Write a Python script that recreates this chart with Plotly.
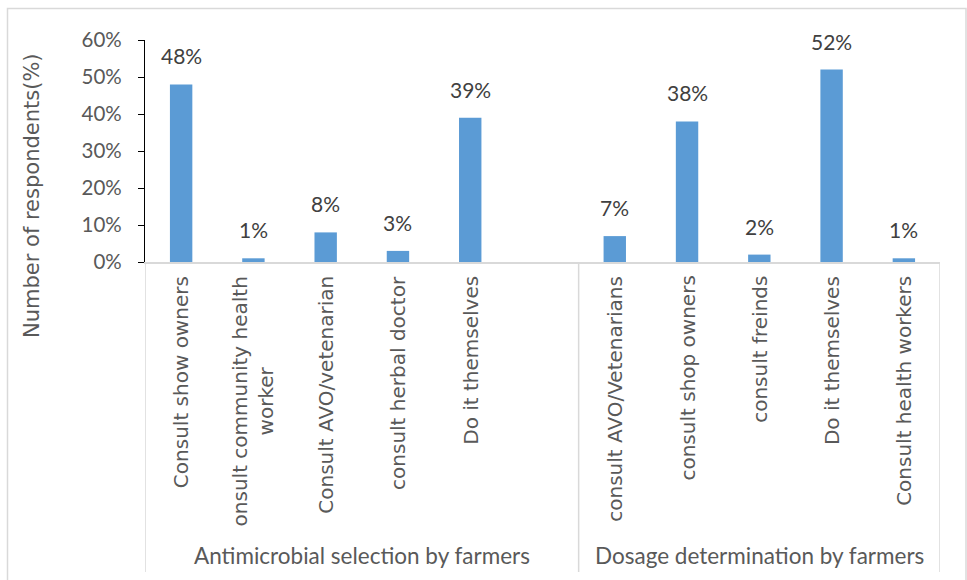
import plotly.graph_objects as go

# ---- data ----
categories = [
    "Consult show owners",
    "onsult community health<br>worker",
    "Consult AVO/vetenarian",
    "consult herbal doctor",
    "Do it themselves",
    "",
    "consult AVO/Vetenarians",
    "consult shop owners",
    "consult freinds",
    "Do it themselves",
    "Consult health workers",
]
values = [0.48, 0.01, 0.08, 0.03, 0.39, None, 0.07, 0.38, 0.02, 0.52, 0.01]
groups = ["Antimicrobial selection by farmers", "Dosage determination by farmers"]
group_sizes = [6, 5]
y_ticks = [0, 0.1, 0.2, 0.3, 0.4, 0.5, 0.6]
y_title = "Number of respondents(%)"

W, H = 967, 580
L, R, T, B = 145, 27, 40, 318
PW, PH = W - L - R, H - T - B

def px_to_paper_x(px):
    return (px - L) / PW

def px_to_paper_y(py):
    return (H - B - py) / PH

xs = list(range(len(categories)))
bar_color = "#5B9BD5"

fig = go.Figure()
fig.add_trace(go.Bar(
    x=xs, y=values, width=0.31,
    marker=dict(color=bar_color, line=dict(width=0)),
    hoverinfo="skip",
))

annotations = []
# data labels
for i, v in enumerate(values):
    if v is None:
        continue
    annotations.append(dict(
        x=i, xref="x", y=v, yref="y", yanchor="bottom", xanchor="center",
        yshift=14, text=f"{v*100:.0f}%", showarrow=False,
        font=dict(family="Lato", size=21, color="#404040"),
    ))

for i, c in enumerate(categories):
    if not c:
        continue
    annotations.append(dict(
        x=i, xref="x", y=0, yref="paper", yanchor="top", xanchor="center",
        yshift=-12, text=c, textangle=-90, showarrow=False, align="center",
        font=dict(family="DejaVu Sans", size=20, color="#595959"),
    ))

# group labels and separators
shapes = []
start = 0
bounds = [-0.5]
for g, n in zip(groups, group_sizes):
    mid = start + (n - 1) / 2
    annotations.append(dict(
        x=mid, xref="x", y=px_to_paper_y(555), yref="paper", yanchor="middle",
        text=g, showarrow=False,
        font=dict(family="Lato", size=22.5, color="#595959"),
    ))
    start += n
    bounds.append(start - 0.5)

for b in bounds:
    shapes.append(dict(type="line", xref="x", yref="paper", x0=b, x1=b,
                       y0=0, y1=px_to_paper_y(572),
                       line=dict(color="#d9d9d9", width=1.5)))

# outer border
shapes.append(dict(type="rect", xref="paper", yref="paper",
                   x0=px_to_paper_x(7.5), x1=px_to_paper_x(966),
                   y0=px_to_paper_y(600), y1=px_to_paper_y(8.5),
                   line=dict(color="#d9d9d9", width=1.5), layer="below"))

annotations.append(dict(
    x=px_to_paper_x(32), xref="paper", y=px_to_paper_y(196), yref="paper",
    xanchor="center", yanchor="middle", text=y_title, textangle=-90,
    showarrow=False, font=dict(family="DejaVu Sans", size=21, color="#595959"),
))

fig.update_layout(
    width=W, height=H,
    margin=dict(l=L, r=R, t=T, b=B, autoexpand=False),
    paper_bgcolor="white", plot_bgcolor="white",
    showlegend=False,
    annotations=annotations, shapes=shapes,
    xaxis=dict(range=[-0.5, len(categories) - 0.5], showticklabels=False,
               showgrid=False, zeroline=False, showline=True,
               linecolor="#d9d9d9", linewidth=1.5, ticks=""),
    yaxis=dict(range=[0, 0.6], tickvals=y_ticks, tickformat=".0%",
               showgrid=False, zeroline=False, showline=True,
               linecolor="black", linewidth=1.2, ticks="outside",
               ticklen=6, tickcolor="black", ticklabelstandoff=12,
               tickfont=dict(family="Lato", size=20.5, color="#595959")),
)

fig.write_html("out.html")
